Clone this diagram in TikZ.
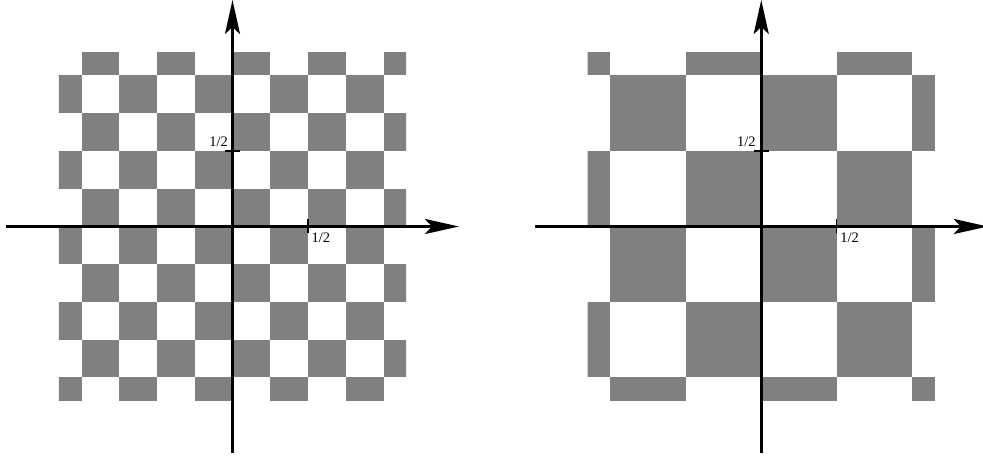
\documentclass[tikz,border=0pt]{standalone}
\usepackage{fontspec}
\setmainfont{Liberation Serif}
\usetikzlibrary{arrows.meta}
\definecolor{boardgray}{RGB}{128,128,128}
\tikzset{
  axisline/.style={line width=3pt, -{Stealth[length=34pt,width=15pt,inset=7pt]}},
  tickmark/.style={line width=1.2pt},
  ticklabel/.style={inner sep=0pt, font=\fontsize{14.5}{16}\selectfont},
  cell/.style={fill=boardgray, draw=none},
}
\begin{document}
\begin{tikzpicture}[x=1pt,y=1pt]
\useasboundingbox (0,0) rectangle (983,457);
% ---------------- left plot ----------------
\begin{scope}[shift={(232.5pt,230.5pt)}, x=151pt, y=151pt]
  \begin{scope}
    \clip (-1.15,-1.15) rectangle (1.15,1.15);
    \foreach \i in {-5,...,4}{
      \foreach \j in {-5,...,4}{
        \pgfmathtruncatemacro{\parity}{mod(\i+\j+20,2)}
        \ifnum\parity=0
          \fill[cell] ({\i/4},{\j/4}) rectangle ({(\i+1)/4},{(\j+1)/4});
        \fi
      }}
  \end{scope}
  \coordinate (LxS) at (-1.5,0);
  \coordinate (LxE) at (1.5,0);
  \coordinate (LyS) at (0,-1.5);
  \coordinate (LyE) at (0,1.5);
  \draw[axisline] (LxS) -- (LxE);
  \draw[axisline] (LyS) -- (LyE);
  \coordinate (LtxA) at ([yshift=-7pt]0.5,0);
  \coordinate (LtxB) at ([yshift=7pt]0.5,0);
  \coordinate (LtyA) at ([xshift=-7.5pt]0,0.5);
  \coordinate (LtyB) at ([xshift=7.5pt]0,0.5);
  \draw[tickmark] (LtxA) -- (LtxB);
  \draw[tickmark] (LtyA) -- (LtyB);
  \node[ticklabel, anchor=base west] (Lxl) at ([shift={(3.5pt,-16.5pt)}]0.5,0) {1/2};
  \node[ticklabel, anchor=base east] (Lyl) at ([shift={(-4.5pt,4pt)}]0,0.5) {1/2};
\end{scope}
% ---------------- right plot ----------------
\begin{scope}[shift={(761.25pt,230.5pt)}, x=151pt, y=151pt]
  \begin{scope}
    \clip (-1.15,-1.15) rectangle (1.15,1.15);
    \foreach \i in {-3,...,2}{
      \foreach \j in {-3,...,2}{
        \pgfmathtruncatemacro{\parity}{mod(\i+\j+20,2)}
        \ifnum\parity=1
          \fill[cell] ({\i/2},{\j/2}) rectangle ({(\i+1)/2},{(\j+1)/2});
        \fi
      }}
  \end{scope}
  \coordinate (RxS) at (-1.5,0);
  \coordinate (RxE) at (1.5,0);
  \coordinate (RyS) at (0,-1.5);
  \coordinate (RyE) at (0,1.5);
  \draw[axisline] (RxS) -- (RxE);
  \draw[axisline] (RyS) -- (RyE);
  \coordinate (RtxA) at ([yshift=-7pt]0.5,0);
  \coordinate (RtxB) at ([yshift=7pt]0.5,0);
  \coordinate (RtyA) at ([xshift=-7.5pt]0,0.5);
  \coordinate (RtyB) at ([xshift=7.5pt]0,0.5);
  \draw[tickmark] (RtxA) -- (RtxB);
  \draw[tickmark] (RtyA) -- (RtyB);
  \node[ticklabel, anchor=base west] (Rxl) at ([shift={(3.5pt,-16.5pt)}]0.5,0) {1/2};
  \node[ticklabel, anchor=base east] (Ryl) at ([shift={(-5.5pt,4pt)}]0,0.5) {1/2};
\end{scope}
\end{tikzpicture}
\end{document}
